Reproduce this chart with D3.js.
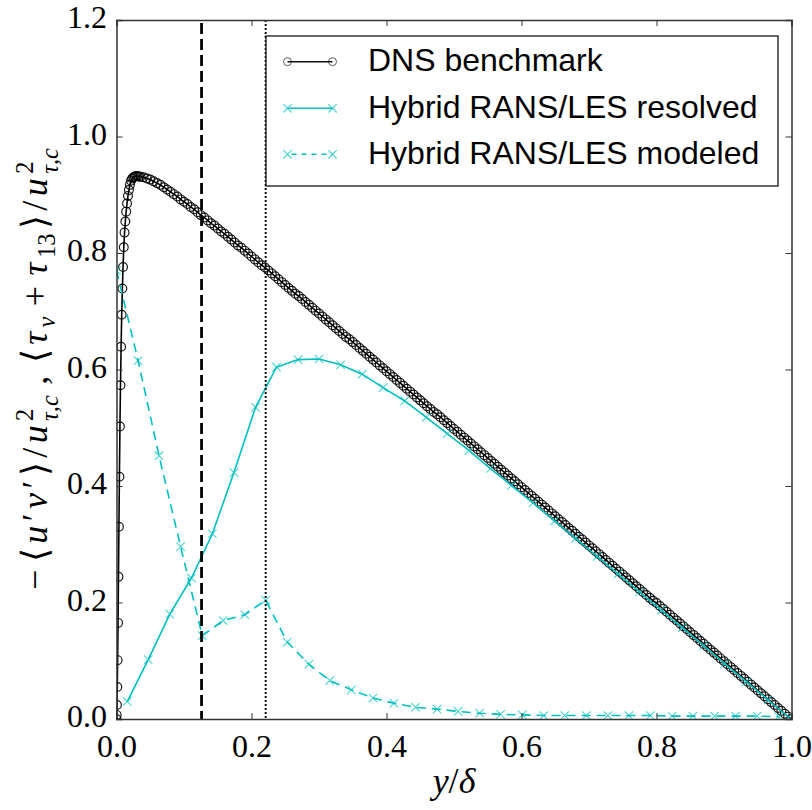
<!DOCTYPE html>
<html>
<head>
<meta charset="utf-8">
<script src="https://cdn.jsdelivr.net/npm/d3@7"></script>
<style>
  body { margin: 0; background: #fff; }
  svg { display: block; }
</style>
</head>
<body>
<svg id="chart" width="812" height="810"></svg>
<script>
// Total shear stress profile in channel flow: DNS vs hybrid RANS/LES split

// DNS benchmark: -<u'v'>/u_tau^2 (wall-refined near y = 0, then uniform)
const dnsX = [
  0.0000, 0.0003, 0.0007, 0.0012, 0.0017, 0.0023, 0.0029, 0.0036, 0.0043, 0.0051,
  0.0059, 0.0068, 0.0077, 0.0087, 0.0097, 0.0108, 0.0119, 0.0131, 0.0143, 0.0156,
  0.0170, 0.0184, 0.0199, 0.0215, 0.0232, 0.0250, 0.0270, 0.0290, 0.0311, 0.0333,
  0.0356,
  0.040,0.045,0.050,0.055,0.060,0.065,0.070,0.075,0.080,0.085,
  0.090,0.095,0.100,0.105,0.110,0.115,0.120,0.125,0.130,0.135,
  0.140,0.145,0.150,0.155,0.160,0.165,0.170,0.175,0.180,0.185,
  0.190,0.195,0.200,0.205,0.210,0.215,0.220,0.225,0.230,0.235,
  0.240,0.245,0.250,0.255,0.260,0.265,0.270,0.275,0.280,0.285,
  0.290,0.295,0.300,0.305,0.310,0.315,0.320,0.325,0.330,0.335,
  0.340,0.345,0.350,0.355,0.360,0.365,0.370,0.375,0.380,0.385,
  0.390,0.395,0.400,0.405,0.410,0.415,0.420,0.425,0.430,0.435,
  0.440,0.445,0.450,0.455,0.460,0.465,0.470,0.475,0.480,0.485,
  0.490,0.495,0.500,0.505,0.510,0.515,0.520,0.525,0.530,0.535,
  0.540,0.545,0.550,0.555,0.560,0.565,0.570,0.575,0.580,0.585,
  0.590,0.595,0.600,0.605,0.610,0.615,0.620,0.625,0.630,0.635,
  0.640,0.645,0.650,0.655,0.660,0.665,0.670,0.675,0.680,0.685,
  0.690,0.695,0.700,0.705,0.710,0.715,0.720,0.725,0.730,0.735,
  0.740,0.745,0.750,0.755,0.760,0.765,0.770,0.775,0.780,0.785,
  0.790,0.795,0.800,0.805,0.810,0.815,0.820,0.825,0.830,0.835,
  0.840,0.845,0.850,0.855,0.860,0.865,0.870,0.875,0.880,0.885,
  0.890,0.895,0.900,0.905,0.910,0.915,0.920,0.925,0.930,0.935,
  0.940,0.945,0.950,0.955,0.960,0.965,0.970,0.975,0.980,0.985,
  0.990,0.995,1.000
];
const dnsY = [
  0.000, 0.007, 0.024, 0.055, 0.101, 0.165, 0.244, 0.330, 0.416, 0.502,
  0.573, 0.639, 0.694, 0.739, 0.776, 0.810, 0.835, 0.854, 0.871, 0.885,
  0.898, 0.908, 0.917, 0.924, 0.928, 0.930, 0.931, 0.932, 0.932, 0.931,
  0.931,
  0.930,0.928,0.926,0.923,0.920,0.917,0.913,0.909,0.905,0.901,
  0.897,0.892,0.888,0.884,0.879,0.875,0.870,0.865,0.861,0.856,
  0.851,0.847,0.842,0.837,0.833,0.828,0.823,0.818,0.813,0.809,
  0.804,0.799,0.794,0.789,0.784,0.779,0.775,0.770,0.765,0.760,
  0.755,0.750,0.745,0.740,0.735,0.730,0.726,0.721,0.716,0.711,
  0.706,0.701,0.696,0.691,0.686,0.681,0.676,0.671,0.666,0.661,
  0.656,0.652,0.647,0.642,0.637,0.632,0.627,0.622,0.617,0.612,
  0.607,0.602,0.597,0.592,0.587,0.582,0.577,0.572,0.567,0.562,
  0.557,0.552,0.547,0.542,0.537,0.532,0.527,0.523,0.518,0.513,
  0.508,0.503,0.498,0.493,0.488,0.483,0.478,0.473,0.468,0.463,
  0.458,0.453,0.448,0.443,0.438,0.433,0.428,0.423,0.418,0.413,
  0.408,0.403,0.398,0.393,0.388,0.383,0.378,0.373,0.368,0.363,
  0.358,0.353,0.348,0.343,0.338,0.333,0.328,0.323,0.318,0.313,
  0.308,0.303,0.298,0.293,0.288,0.283,0.278,0.273,0.268,0.263,
  0.258,0.253,0.248,0.243,0.238,0.233,0.228,0.223,0.218,0.213,
  0.208,0.203,0.199,0.194,0.189,0.184,0.179,0.174,0.169,0.164,
  0.159,0.154,0.149,0.144,0.139,0.134,0.129,0.124,0.119,0.114,
  0.109,0.104,0.099,0.094,0.089,0.084,0.079,0.074,0.069,0.064,
  0.059,0.054,0.049,0.044,0.039,0.034,0.029,0.024,0.019,0.014,
  0.009,0.004,0.000
];

// Hybrid RANS/LES, resolved part (cell centres)
const resolvedX = [
  0.016, 0.047, 0.079, 0.111, 0.142, 0.174, 0.206, 0.237, 0.269, 0.300,
  0.332, 0.364, 0.395, 0.427, 0.459, 0.490, 0.522, 0.554, 0.585, 0.617,
  0.649, 0.680, 0.712, 0.743, 0.775, 0.807, 0.838, 0.870, 0.901, 0.933,
  0.965, 0.996
];
const resolvedY = [
  0.030, 0.102, 0.180, 0.242, 0.318, 0.423, 0.535, 0.604, 0.617, 0.618,
  0.608, 0.592, 0.569, 0.546, 0.518, 0.490, 0.461, 0.430, 0.401, 0.371,
  0.340, 0.310, 0.279, 0.249, 0.218, 0.187, 0.157, 0.126, 0.095, 0.064,
  0.033, 0.003
];

// Hybrid RANS/LES, modeled part (cell faces)
const modeledX = [
  0.000, 0.032, 0.063, 0.095, 0.127, 0.158, 0.190, 0.221, 0.253, 0.285,
  0.316, 0.348, 0.380, 0.411, 0.443, 0.475, 0.506, 0.538, 0.569, 0.601,
  0.633, 0.664, 0.696, 0.728, 0.759, 0.791, 0.823, 0.854, 0.886, 0.917,
  0.949, 0.981
];
const modeledY = [
  0.770, 0.615, 0.452, 0.296, 0.143, 0.169, 0.179, 0.204, 0.132, 0.094,
  0.066, 0.050, 0.036, 0.027, 0.020, 0.017, 0.013, 0.010, 0.008, 0.007,
  0.006, 0.006, 0.006, 0.006, 0.006, 0.006, 0.005, 0.005, 0.005, 0.005,
  0.005, 0.004
];

// RANS/LES interface locations
const interfaceDashed = 0.126;
const interfaceDotted = 0.221;

const xTicks = [0.0, 0.2, 0.4, 0.6, 0.8, 1.0];
const yTicks = [0.0, 0.2, 0.4, 0.6, 0.8, 1.0, 1.2];
const legendLabels = ["DNS benchmark", "Hybrid RANS/LES resolved", "Hybrid RANS/LES modeled"];

const CYAN = "#00bfbf";
const SERIF = "'Liberation Serif'";
const SANS = "'Liberation Sans'";
const svg = d3.select("#chart");

const x = d3.scaleLinear().domain([0, 1]).range([116.5, 791.5]);
const y = d3.scaleLinear().domain([0, 1.2]).range([719, 20]);

const L = x.range()[0], R = x.range()[1], T = y.range()[1], B = y.range()[0];

svg.append("defs").append("clipPath").attr("id", "plotClip")
  .append("rect").attr("x", L).attr("y", T).attr("width", R - L).attr("height", B - T);

const plot = svg.append("g").attr("clip-path", "url(#plotClip)");

const line = d3.line().x(d => x(d[0])).y(d => y(d[1]));
const dns = dnsX.map((v, i) => [v, dnsY[i]]);
const resolved = resolvedX.map((v, i) => [v, resolvedY[i]]);
const modeled = modeledX.map((v, i) => [v, modeledY[i]]);

const crossPath = s => `M${-s},${-s}L${s},${s}M${-s},${s}L${s},${-s}`;

// DNS: line with open circles
plot.append("path").datum(dns).attr("d", line)
  .attr("fill", "none").attr("stroke", "#000").attr("stroke-width", 1.6);
plot.append("g").selectAll("circle").data(dns).join("circle")
  .attr("cx", d => x(d[0])).attr("cy", d => y(d[1])).attr("r", 4.4)
  .attr("fill", "none").attr("stroke", "#000").attr("stroke-opacity", 0.9).attr("stroke-width", 1.2);

// Resolved: solid cyan with crosses
plot.append("path").datum(resolved).attr("d", line)
  .attr("fill", "none").attr("stroke", CYAN).attr("stroke-width", 1.6);
plot.append("g").selectAll("path").data(resolved).join("path")
  .attr("transform", d => `translate(${x(d[0])},${y(d[1])})`)
  .attr("d", crossPath(4.2)).attr("stroke", CYAN).attr("stroke-opacity", 0.7).attr("stroke-width", 1.1);

// Modeled: dashed cyan with crosses
plot.append("path").datum(modeled).attr("d", line)
  .attr("fill", "none").attr("stroke", CYAN).attr("stroke-width", 1.6).attr("stroke-dasharray", "9,6");
plot.append("g").selectAll("path").data(modeled).join("path")
  .attr("transform", d => `translate(${x(d[0])},${y(d[1])})`)
  .attr("d", crossPath(4.2)).attr("stroke", CYAN).attr("stroke-opacity", 0.7).attr("stroke-width", 1.1);

// Interface markers
plot.append("line").attr("x1", x(interfaceDashed)).attr("x2", x(interfaceDashed))
  .attr("y1", T).attr("y2", B).attr("stroke", "#000").attr("stroke-width", 2.8)
  .attr("stroke-dasharray", "11,5").attr("stroke-dashoffset", -3);
plot.append("line").attr("x1", x(interfaceDotted)).attr("x2", x(interfaceDotted))
  .attr("y1", T).attr("y2", B).attr("stroke", "#111").attr("stroke-width", 2)
  .attr("stroke-dasharray", "2,2");

// Axes with inward ticks on all four sides
const tickLen = 6;
const axB = svg.append("g").attr("transform", `translate(0,${B})`)
  .call(d3.axisBottom(x).tickValues(xTicks).tickSize(-tickLen).tickPadding(0).tickFormat(d3.format(".1f")));
const axT = svg.append("g").attr("transform", `translate(0,${T})`)
  .call(d3.axisTop(x).tickValues(xTicks).tickSize(-tickLen).tickFormat(""));
const axL = svg.append("g").attr("transform", `translate(${L},0)`)
  .call(d3.axisLeft(y).tickValues(yTicks).tickSize(-tickLen).tickPadding(0).tickFormat(d3.format(".1f")));
const axR = svg.append("g").attr("transform", `translate(${R},0)`)
  .call(d3.axisRight(y).tickValues(yTicks).tickSize(-tickLen).tickFormat(""));

[axB, axT, axL, axR].forEach(g => {
  g.attr("font-family", SERIF).attr("font-size", 32);
  g.select(".domain").attr("stroke", "#333").attr("stroke-width", 1.5);
  g.selectAll(".tick line").attr("stroke", "#333").attr("stroke-width", 1);
});
axB.selectAll(".tick text")
  .attr("y", 38).attr("dy", null).attr("fill", "#000")
  .attr("font-family", SERIF).attr("font-size", 32);
axL.selectAll(".tick text")
  .attr("x", -9.5).attr("y", 0).attr("dy", 7.5).attr("fill", "#000")
  .attr("font-family", SERIF).attr("font-size", 32);

// x-axis title
const xt = svg.append("text").attr("x", (L + R) / 2).attr("y", 793)
  .attr("text-anchor", "middle").attr("font-family", SERIF).attr("font-size", 36);
xt.append("tspan").attr("font-style", "italic").text("y");
xt.append("tspan").text("/");
xt.append("tspan").attr("font-style", "italic").text("δ");

// y-axis title, laid out run by run along the rotated baseline
const ytG = svg.append("g").attr("transform", "translate(47,590) rotate(-90)");
const yRuns = [
  { t: "−", gap: 3 }, { t: "⟨" }, { t: "u", it: true }, { t: "′" }, { t: "v", it: true }, { t: "′" },
  { t: "⟩" }, { t: "/" }, { t: "u", it: true }, { sup: "2", sub: "τ,c", gap: 6 },
  { t: ",", gap: 8 }, { t: "⟨" }, { t: "τ", it: true }, { low: "ν", gap: 6 },
  { t: "+", gap: 6 }, { t: "τ", it: true }, { low: "13" }, { t: "⟩" }, { t: "/" },
  { t: "u", it: true }, { sup: "2", sub: "τ,c" }
];
function layoutYLabel(fs, extra) {
  ytG.selectAll("*").remove();
  const ss = fs * 0.68;
  let cur = 0;
  const put = (txt, size, dy, it) => {
    const n = ytG.append("text").attr("x", cur).attr("y", dy)
      .attr("font-family", SERIF).attr("font-size", size)
      .attr("font-style", it ? "italic" : "normal").text(txt);
    return n.node().getComputedTextLength();
  };
  yRuns.forEach((r, i) => {
    if (r.t) cur += put(r.t, fs, 0, r.it);
    else if (r.low) cur += put(r.low, ss, fs * 0.22, /[a-zν]/.test(r.low));
    else {
      const w1 = put(r.sup, ss, -fs * 0.4, false);
      const w2 = put(r.sub, ss, fs * 0.3, true);
      cur += Math.max(w1, w2);
    }
    if (i < yRuns.length - 1) cur += (r.gap || 0) + extra;
  });
  return cur;
}
const yLabelLen = 442;
const natural = layoutYLabel(36, 0);
layoutYLabel(36, Math.max(0, (yLabelLen - natural) / (yRuns.length - 1)));

// Legend
const lg = svg.append("g");
lg.append("rect").attr("x", 266).attr("y", 36).attr("width", 512).attr("height", 150)
  .attr("fill", "#fff").attr("stroke", "#000").attr("stroke-width", 1.2);
const rowsY = [61.7, 108.3, 154.3];
const lx0 = 287.5, lx1 = 332.5;
legendLabels.forEach((lab, i) => {
  const yy = rowsY[i];
  const g = lg.append("g");
  if (i === 0) {
    g.append("line").attr("x1", lx0).attr("x2", lx1).attr("y1", yy).attr("y2", yy)
      .attr("stroke", "#111").attr("stroke-width", 1.5);
    [lx0, lx1].forEach(cx => g.append("circle").attr("cx", cx).attr("cy", yy).attr("r", 4)
      .attr("fill", "none").attr("stroke", "#222").attr("stroke-opacity", 0.8).attr("stroke-width", 0.9));
  } else {
    g.append("line").attr("x1", lx0).attr("x2", lx1).attr("y1", yy).attr("y2", yy)
      .attr("stroke", CYAN).attr("stroke-width", 1.6)
      .attr("stroke-dasharray", i === 2 ? "5,5" : null).attr("stroke-dashoffset", i === 2 ? -4 : null);
    [lx0, lx1].forEach(cx => g.append("path").attr("transform", `translate(${cx},${yy})`)
      .attr("d", crossPath(4.2)).attr("stroke", CYAN).attr("stroke-opacity", 0.7).attr("stroke-width", 1.1));
  }
  g.append("text").attr("x", 368).attr("y", yy + 9.5)
    .attr("font-family", SANS).attr("font-size", 32)
    .attr("fill", "#000").text(lab);
});
</script>
</body>
</html>
